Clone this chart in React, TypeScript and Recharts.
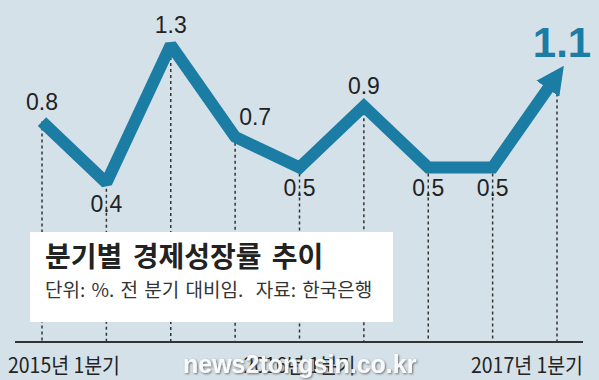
import { LineChart, Line, XAxis, YAxis, ReferenceLine } from 'recharts';

// 분기별 경제성장률 (전 분기 대비, %)
const quarters = [
  '2015년 1분기', '2015년 2분기', '2015년 3분기', '2015년 4분기',
  '2016년 1분기', '2016년 2분기', '2016년 3분기', '2016년 4분기',
  '2017년 1분기',
];
const growth = [0.8, 0.4, 1.3, 0.7, 0.5, 0.9, 0.5, 0.5, 1.1];

// where each value label sits relative to its point
const labelSide = ['top', 'bottom', 'top', 'right', 'bottom', 'top', 'bottom', 'bottom', 'big'];

const Y_MIN = -0.64;
const Y_MAX = 1.3;

const BG = '#d5e1e9';
const LINE = '#1b7ca4';
const INK = '#222';
const NUM_FONT = '"Liberation Sans", Arial, sans-serif';
const KR_FONT = '"Noto Sans CJK KR", "Noto Sans", sans-serif';

const data = quarters.map((q, i) => ({ quarter: q, value: growth[i] }));

const W = 599;
const H = 380;
const MARGIN = { top: 45, right: 16, bottom: 0, left: 15 };
const PAD = { left: 27, right: 26 };

const ValueLabel = (props: any) => {
  const { x, y, value, index } = props;
  const side = labelSide[index];
  if (side === 'big') {
    return (
      <text x={x + 5} y={y - 19} textAnchor="middle" fill={LINE}
        style={{ fontFamily: NUM_FONT, fontSize: 42, fontWeight: 700 }}>
        {value}
      </text>
    );
  }
  let dx = 0;
  let dy = -12;
  if (side === 'bottom') dy = 29;
  if (side === 'right') { dx = 20; dy = -12; }
  return (
    <text x={x + dx} y={y + dy} textAnchor="middle" fill={INK}
      style={{ fontFamily: NUM_FONT, fontSize: 23 }}>
      {value.toFixed(1)}
    </text>
  );
};

const QuarterTick = (props: any) => {
  const { x, y, payload, index } = props;
  const label: string = payload.value;
  if (!label.endsWith('1분기')) return <g />;
  const last = index === quarters.length - 1;
  const anchor = index === 0 ? 'start' : last ? 'end' : 'middle';
  const tx = index === 0 ? x - 34 : last ? x + 26 : x;
  return (
    <text x={tx} y={y + 23} textAnchor={anchor} fill={INK}
      textLength={112} lengthAdjust="spacingAndGlyphs"
      style={{ fontFamily: KR_FONT, fontSize: 21 }}>
      {label}
    </text>
  );
};

export default function App() {
  return (
    <div style={{ position: 'absolute', left: 0, top: 0, width: W, height: H, background: BG, overflow: 'hidden' }}>
      {/* dotted drop lines underneath */}
      <div style={{ position: 'absolute', left: 0, top: 0 }}>
        <LineChart width={W} height={H} data={data} margin={MARGIN}>
          <XAxis dataKey="quarter" padding={PAD} height={38} interval={0}
            axisLine={{ stroke: '#333', strokeWidth: 2 }} tickLine={false} tick={<QuarterTick />} />
          <YAxis hide domain={[Y_MIN, Y_MAX]} />
          {data.map((d) => (
            <ReferenceLine key={d.quarter}
              segment={[{ x: d.quarter, y: d.value }, { x: d.quarter, y: Y_MIN }]}
              stroke="#333" strokeWidth={1.5} strokeDasharray="3 3" />
          ))}
          <Line dataKey="value" stroke="none" dot={false} activeDot={false} isAnimationActive={false} />
        </LineChart>
      </div>

      {/* info box */}
      <svg width={W} height={H} style={{ position: 'absolute', left: 0, top: 0 }}>
        <rect x={30} y={232} width={363} height={90} fill="#fff" />
        <text x={45} y={267} fill={INK} style={{ fontFamily: KR_FONT, fontSize: 28, fontWeight: 700, wordSpacing: 4 }}>
          분기별 경제성장률 추이
        </text>
        <text x={45} y={297} fill="#333" style={{ fontFamily: KR_FONT, fontSize: 19, wordSpacing: 2, whiteSpace: 'pre' }}>
          {'단위: %. 전 분기 대비임.  자료: 한국은행'}
        </text>
      </svg>

      {/* growth line on top, same layout as the chart below */}
      <div style={{ position: 'absolute', left: 0, top: 0 }}>
        <LineChart width={W} height={H} data={data} margin={MARGIN}>
          <defs>
            <marker id="growthArrow" markerUnits="userSpaceOnUse" markerWidth={28} markerHeight={28}
              viewBox="0 0 28 28" refX={16} refY={14} orient="auto">
              <path d="M0,0 L28,14 L0,28 Z" fill={LINE} />
            </marker>
          </defs>
          <XAxis dataKey="quarter" padding={PAD} height={38} interval={0}
            axisLine={false} tickLine={false} tick={false} />
          <YAxis hide domain={[Y_MIN, Y_MAX]} />
          <Line type="linear" dataKey="value" stroke={LINE} strokeWidth={12}
            strokeLinejoin="miter" strokeMiterlimit={1.6} strokeLinecap="butt" markerEnd="url(#growthArrow)"
            dot={false} activeDot={false} isAnimationActive={false} label={<ValueLabel />} />
        </LineChart>
      </div>

      {/* watermark */}
      <svg width={W} height={H} style={{ position: 'absolute', left: 0, top: 0, pointerEvents: 'none' }}>
        <defs>
          <filter id="wmShadow" x="-10%" y="-30%" width="120%" height="160%">
            <feDropShadow dx="1" dy="1" stdDeviation="1" floodColor="#555" floodOpacity="0.9" />
          </filter>
        </defs>
        <text x={183} y={373} fill="#fff" fillOpacity={0.92} filter="url(#wmShadow)"
          style={{ fontFamily: NUM_FONT, fontSize: 25, fontWeight: 700 }}>
          news2tongsin.co.kr
        </text>
      </svg>
    </div>
  );
}
